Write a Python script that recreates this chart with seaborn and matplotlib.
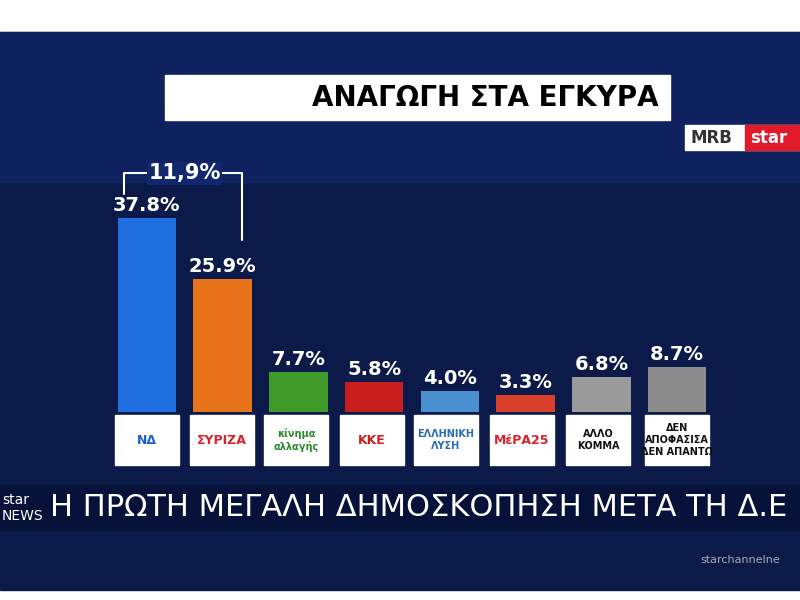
import matplotlib
matplotlib.use("Agg")
import matplotlib.pyplot as plt
import seaborn as sns
import pandas as pd
from matplotlib.patches import Rectangle

parties = ["ΝΔ", "ΣΥΡΙΖΑ", "ΚΙΝΑΛ", "ΚΚΕ", "ΕΛ. ΛΥΣΗ", "ΜέΡΑ25", "ΑΛΛΟ ΚΟΜΜΑ", "ΔΕΝ ΑΠΟΦΑΣΙΣΑ"]
values = [37.8, 25.9, 7.7, 5.8, 4.0, 3.3, 6.8, 8.7]
logo_text = ["ΝΔ", "ΣΥΡΙΖΑ", "κίνημα\nαλλαγής", "ΚΚΕ", "ΕΛΛΗΝΙΚΗ\nΛΥΣΗ", "ΜέΡΑ25", "ΑΛΛΟ\nΚΟΜΜΑ", "ΔΕΝ\nΑΠΟΦΑΣΙΣΑ\nΔΕΝ ΑΠΑΝΤΩ"]
logo_color = ["#1f5fc8", "#d8232a", "#2f8a2f", "#d01c1c", "#2a6db0", "#d8232a", "#111111", "#111111"]
colors = ["#1f6fe0", "#e8731a", "#3f9a2a", "#c81e1e", "#4a8fcf", "#d9402a", "#9a9a9a", "#8c8c8c"]
gap_label = "11,9%"
title = "ΑΝΑΓΩΓΗ ΣΤΑ ΕΓΚΥΡΑ"
banner = "Η ΠΡΩΤΗ ΜΕΓΑΛΗ ΔΗΜΟΣΚΟΠΗΣΗ ΜΕΤΑ ΤΗ Δ.Ε"

sns.set_theme(style="white")
plt.rcParams['font.family'] = ['DejaVu Sans']
fig = plt.figure(figsize=(8, 6), dpi=100)
fig.patch.set_facecolor("white")

bg = fig.add_axes([0, 0, 1, 1]); bg.set_xlim(0, 800); bg.set_ylim(600, 0); bg.axis("off")
bg.add_patch(Rectangle((0, 32), 800, 558, color="#0c1a4a"))
bg.add_patch(Rectangle((0, 32), 800, 150, color="#12286e", alpha=0.6))
bg.add_patch(Rectangle((165, 75), 505, 45, color="white"))
bg.text(485, 98, title, ha="center", va="center", fontsize=20, fontweight="bold", color="black")
bg.add_patch(Rectangle((685, 125), 115, 25, color="white"))
bg.text(690, 138, "MRB", ha="left", va="center", fontsize=12, fontweight="bold", color="#333")
bg.add_patch(Rectangle((745, 125), 55, 25, color="#e01a2a"))
bg.text(750, 138, "star", ha="left", va="center", fontsize=12, fontweight="bold", color="white")
bg.add_patch(Rectangle((0, 485), 800, 45, color="#07123a"))
bg.text(50, 508, banner, ha="left", va="center", fontsize=22, color="white")
bg.text(2, 508, "star\nNEWS", ha="left", va="center", fontsize=10, color="white")
bg.text(700, 560, "starchannelne", ha="left", va="center", fontsize=8, color="#aab")

centers = [147, 222, 296, 372, 446, 522, 598, 677]
for cx, t, c in zip(centers, logo_text, logo_color):
    bg.add_patch(Rectangle((cx - 32, 415), 64, 50, color="white"))
    bg.text(cx, 440, t, ha="center", va="center", fontsize=9 if "\n" not in t else 7,
            fontweight="bold", color=c)

ax = fig.add_axes([109/800, (600-412)/600, 606/800, 231/600])
df = pd.DataFrame({"party": parties, "value": values})
sns.barplot(data=df, x="party", y="value", hue="party", palette=colors, legend=False,
            width=0.77, ax=ax, saturation=1, linewidth=0)
ax.set_xlim(-0.5, 7.5)
ax.set_ylim(0, 45); ax.axis("off"); ax.patch.set_alpha(0)
for i, v in enumerate(values):
    ax.text(i, v + 0.6, f"{v:.1f}%", ha="center", va="bottom", fontsize=14,
            fontweight="bold", color="white", clip_on=False)
ax.plot([-0.3, -0.3, 1.25, 1.25], [42.5, 46.5, 46.5, 33.6], color="white", lw=1.5, clip_on=False)
ax.text(0.5, 46.5, gap_label, ha="center", va="center", fontsize=15, fontweight="bold",
        color="white", clip_on=False,
        bbox=dict(facecolor="#12286e", edgecolor="none", pad=1))
fig.savefig("out.png", dpi=100)
